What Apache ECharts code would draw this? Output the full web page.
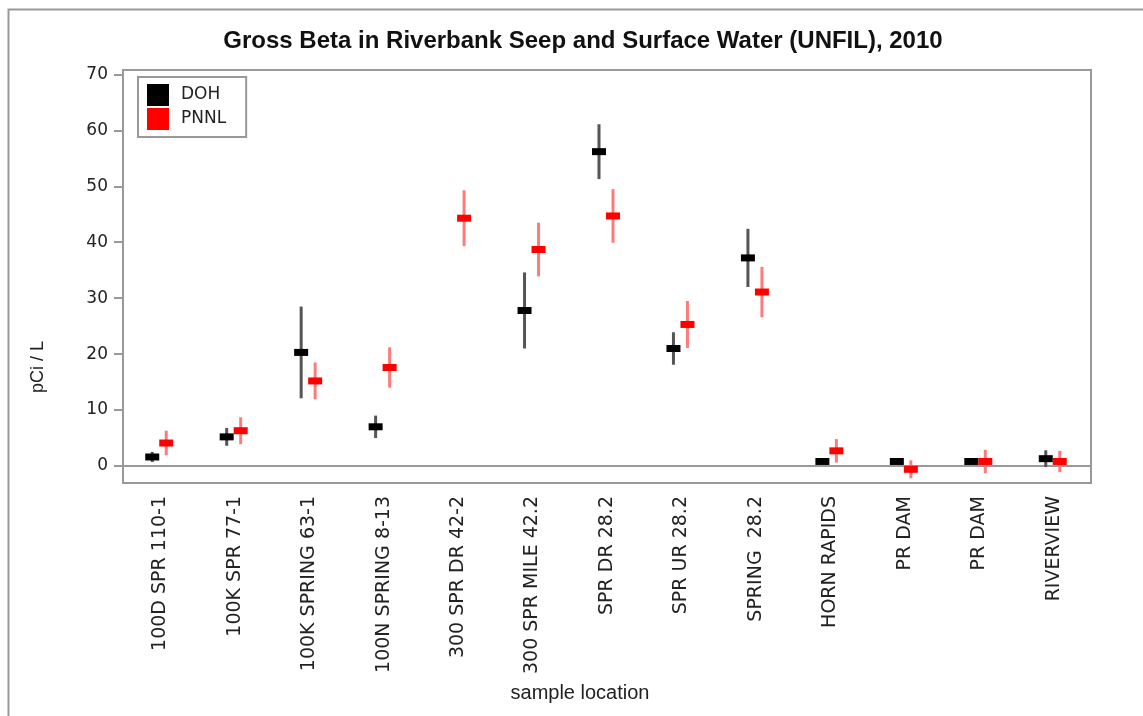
<!DOCTYPE html>
<html>
<head>
<meta charset="utf-8">
<title>Gross Beta in Riverbank Seep and Surface Water (UNFIL), 2010</title>
<script src="https://cdn.jsdelivr.net/npm/echarts@6/dist/echarts.min.js"></script>
<style>
  html, body { margin: 0; padding: 0; background: #fff; }
  #chart { width: 1143px; height: 716px; }
</style>
</head>
<body>
<div id="chart"></div>
<script>
// 采样点名称
var categories = [
  '100D SPR 110-1', '100K SPR 77-1', '100K SPRING 63-1', '100N SPRING 8-13',
  '300 SPR DR 42-2', '300 SPR MILE 42.2', 'SPR DR 28.2', 'SPR UR 28.2',
  'SPRING  28.2', 'HORN RAPIDS', 'PR DAM', 'PR DAM', 'RIVERVIEW'
];
// DOH 测量值和误差
var dohValues = [1.6, 5.2, 20.3, 7.0, null, 27.8, 56.2, 21.0, 37.2, 0.8, 0.8, 0.8, 1.3];
var dohErrors = [0.9, 1.6, 8.2, 2.0, null, 6.8, 4.9, 2.9, 5.2, 0.3, 0.3, 0.3, 1.5];
// PNNL 测量值和误差
var pnnlValues = [4.1, 6.3, 15.2, 17.6, 44.3, 38.7, 44.7, 25.3, 31.1, 2.7, -0.6, 0.8, 0.8];
var pnnlErrors = [2.2, 2.4, 3.3, 3.6, 5.0, 4.8, 4.8, 4.2, 4.5, 2.1, 1.6, 2.1, 1.9];
// y 轴刻度
var yTicks = [0, 10, 20, 30, 40, 50, 60, 70];

function toData(values, errors) {
  var out = [];
  values.forEach(function (v, i) {
    if (v !== null) out.push([i, v, errors[i]]);
  });
  return out;
}

// 误差线 + 方块
function makeRender(offset, barColor, boxColor) {
  return function (params, api) {
    var c = api.value(0), v = api.value(1), e = api.value(2);
    var mid = api.coord([c, v]);
    var hi = api.coord([c, v + e]);
    var lo = api.coord([c, v - e]);
    var x = mid[0] + offset;
    return {
      type: 'group',
      children: [
        { type: 'line', shape: { x1: x, y1: hi[1], x2: x, y2: lo[1] }, style: { stroke: barColor, lineWidth: 3 } },
        { type: 'rect', shape: { x: x - 7, y: mid[1] - 3.5, width: 14, height: 7 }, style: { fill: boxColor } }
      ]
    };
  };
}

var chart = echarts.init(document.getElementById('chart'));
var option = {
  backgroundColor: '#fff',
  animation: false,
  title: {
    text: 'Gross Beta in Riverbank Seep and Surface Water (UNFIL), 2010',
    left: 578,
    textAlign: 'center',
    top: 24,
    textStyle: { fontFamily: 'Liberation Sans', fontWeight: 'bold', fontSize: 24, color: '#111' }
  },
  legend: {
    orient: 'vertical',
    left: 138,
    top: 77,
    icon: 'rect',
    itemWidth: 22,
    itemHeight: 22,
    itemGap: 2,
    padding: [7, 20, 7, 9],
    borderColor: '#999',
    borderWidth: 2,
    borderRadius: 0,
    textStyle: { fontFamily: 'DejaVu Sans', fontSize: 17, color: '#222', padding: [0, 0, 0, 7] },
    data: ['DOH', 'PNNL']
  },
  graphic: [
    { type: 'rect', left: 6, top: 7, shape: { width: 1200, height: 800 }, style: { fill: null, stroke: '#999', lineWidth: 2 }, silent: true },
    { type: 'text', x: 38, y: 367, rotation: Math.PI / 2,
      style: { text: 'pCi / L', fontFamily: 'Liberation Sans', fontSize: 18, fill: '#222', textAlign: 'center', textVerticalAlign: 'middle' } },
    { type: 'text', x: 580, y: 693,
      style: { text: 'sample location', fontFamily: 'Liberation Sans', fontSize: 20, fill: '#222', textAlign: 'center', textVerticalAlign: 'middle' } }
  ],
  grid: {
    left: 123, right: 52, top: 70, bottom: 233,
    show: true, borderColor: '#999', borderWidth: 2
  },
  xAxis: {
    type: 'category',
    data: categories,
    boundaryGap: true,
    axisLine: { show: false },
    axisTick: { alignWithLabel: true, length: 8, lineStyle: { color: '#999', width: 2 } },
    axisLabel: { rotate: 90, interval: 0, margin: 13, fontFamily: 'DejaVu Sans', fontSize: 19, color: '#222' },
    splitLine: { show: false }
  },
  yAxis: {
    type: 'value',
    min: -3.05,
    max: 70.8,
    axisLine: { show: false },
    axisTick: { show: true, length: 9, customValues: yTicks, lineStyle: { color: '#999', width: 2 } },
    axisLabel: { margin: 15, customValues: yTicks, fontFamily: 'DejaVu Sans', fontSize: 17, color: '#222' },
    splitLine: { show: false }
  },
  series: [
    {
      name: 'DOH',
      type: 'custom',
      itemStyle: { color: '#000' },
      renderItem: makeRender(-8, '#555', '#000'),
      data: toData(dohValues, dohErrors),
      z: 3,
      markLine: {
        silent: true,
        symbol: 'none',
        label: { show: false },
        lineStyle: { color: '#999', width: 2, type: 'solid' },
        data: [{ yAxis: 0 }],
        z: 1
      }
    },
    {
      name: 'PNNL',
      type: 'custom',
      itemStyle: { color: '#f00' },
      renderItem: makeRender(6, '#ff7b7b', '#f00'),
      data: toData(pnnlValues, pnnlErrors),
      z: 4
    }
  ]
};
chart.setOption(option);
</script>
</body>
</html>
